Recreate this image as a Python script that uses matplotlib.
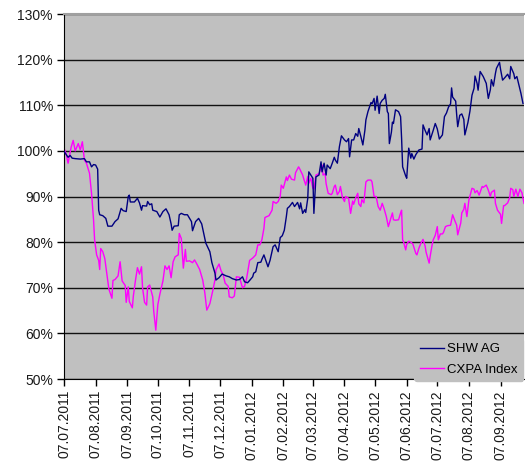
import matplotlib
matplotlib.use("Agg")
import matplotlib.pyplot as plt
import matplotlib.dates as mdates
import matplotlib.ticker as mticker
import pandas as pd

plt.rcParams['font.family'] = ['Liberation Sans', 'DejaVu Sans']

start_date = "2011-07-07"

# SHW AG: days since start, value in %
shw_days = [0, 4, 6, 8, 11, 16, 20, 22, 25, 27, 29, 31, 33, 34, 35, 38, 41, 43, 47, 50,
            53, 56, 58, 61, 63, 64, 65, 69, 72, 74, 76, 77, 81, 82, 84, 86, 87, 91, 94, 97,
            100, 103, 105, 106, 108, 112, 113, 115, 118, 121, 125, 126, 129, 132, 135, 137, 139, 143, 145, 148,
            149, 152, 155, 159, 162, 165, 169, 172, 175, 177, 180, 182, 185, 186, 188, 190, 193, 194, 196, 200,
            202, 205, 207, 210, 212, 214, 216, 218, 219, 221, 224, 226, 229, 231, 232, 234, 236, 237, 239, 240,
            242, 244, 245, 247, 250, 252, 253, 255, 257, 258, 261, 263, 265, 266, 268, 270, 272, 275, 277, 279,
            280, 282, 284, 286, 288, 289, 291, 293, 295, 296, 298, 301, 302, 304, 305, 307, 309, 310, 312, 314,
            315, 317, 318, 319, 321, 322, 323, 325, 328, 330, 331, 332, 335, 336, 338, 340, 341, 343, 345, 348,
            351, 352, 354, 356, 358, 359, 362, 364, 366, 368, 371, 373, 375, 377, 379, 380, 381, 384, 385, 386,
            388, 390, 392, 393, 396, 398, 400, 402, 403, 405, 406, 408, 411, 414, 416, 418, 419, 421, 423, 424,
            427, 428, 430, 432, 435, 437, 438, 441, 442, 444, 446, 448, 450]
shw_values = [99.9, 98.6, 99.0, 98.4, 98.3, 98.2, 98.3, 97.6, 97.6, 96.5, 97.0, 96.9, 96.0, 87.0, 86.0, 85.8, 85.2, 83.5, 83.5, 84.5,
              85.1, 87.4, 86.9, 86.7, 90.0, 90.3, 88.8, 88.8, 89.6, 88.6, 87.0, 88.0, 87.9, 88.9, 88.2, 88.4, 87.0, 86.7, 85.5, 86.7,
              87.3, 86.0, 84.0, 82.6, 83.5, 83.6, 86.0, 86.3, 86.0, 86.0, 84.5, 82.5, 84.5, 85.2, 84.0, 81.9, 79.8, 77.9, 75.5, 73.2,
              71.7, 72.2, 73.0, 72.6, 72.4, 72.0, 71.7, 71.8, 72.4, 71.3, 71.1, 71.6, 72.4, 73.2, 73.5, 75.5, 75.6, 76.2, 77.2, 74.6,
              76.0, 79.0, 79.4, 77.9, 81.0, 81.4, 82.6, 85.6, 87.4, 87.8, 88.7, 87.8, 88.7, 87.3, 88.6, 86.3, 87.1, 86.5, 89.6, 95.4,
              94.7, 94.0, 86.3, 94.3, 94.7, 97.6, 95.4, 97.3, 94.7, 96.9, 96.1, 97.3, 98.6, 98.0, 97.3, 100.9, 103.3, 102.4, 102.0, 102.7,
              98.7, 102.4, 102.4, 103.8, 103.2, 104.9, 103.2, 101.3, 104.5, 106.8, 108.6, 110.6, 110.3, 111.5, 108.9, 112.0, 108.2, 110.4, 111.1, 111.5,
              112.4, 108.6, 108.2, 101.6, 104.1, 106.3, 106.0, 109.0, 108.6, 107.5, 102.7, 96.5, 94.5, 94.0, 100.6, 98.4, 99.4, 98.2, 99.2, 100.2,
              100.4, 105.7, 104.5, 103.5, 104.9, 102.4, 104.5, 106.0, 104.8, 102.6, 103.5, 107.5, 108.3, 109.6, 110.3, 113.8, 111.8, 110.9, 107.9, 105.3,
              107.8, 108.1, 106.9, 103.5, 106.2, 108.7, 112.2, 113.7, 116.4, 114.8, 113.3, 117.4, 116.3, 114.8, 111.5, 113.4, 115.6, 114.2, 117.0, 118.1,
              119.4, 117.9, 115.5, 116.0, 116.8, 115.8, 118.5, 116.9, 115.8, 116.3, 114.5, 112.6, 110.4]

# CXPA Index: days since start, value in %
cxpa_days = [0, 2, 4, 7, 9, 11, 14, 16, 18, 20, 22, 25, 27, 29, 30, 32, 34, 35, 36, 38,
             40, 42, 44, 47, 48, 50, 53, 55, 57, 60, 61, 63, 64, 67, 68, 70, 72, 74, 76, 77,
             79, 81, 82, 84, 87, 88, 90, 92, 94, 97, 99, 101, 103, 105, 107, 109, 112, 113, 115, 117,
             119, 120, 123, 126, 128, 130, 133, 136, 138, 140, 143, 146, 148, 149, 152, 154, 156, 158, 161, 162,
             165, 167, 169, 172, 175, 177, 179, 182, 185, 188, 190, 192, 194, 196, 197, 199, 201, 204, 205, 208,
             210, 212, 213, 215, 218, 219, 221, 223, 226, 227, 230, 231, 234, 235, 237, 239, 240, 242, 244, 245,
             247, 250, 253, 254, 256, 257, 259, 262, 263, 265, 266, 268, 270, 271, 273, 275, 276, 279, 281, 283,
             284, 286, 288, 289, 291, 292, 294, 296, 298, 301, 302, 304, 306, 308, 310, 312, 314, 316, 318, 320,
             322, 323, 325, 328, 330, 331, 332, 333, 335, 336, 338, 340, 342, 345, 346, 348, 350, 352, 354, 355,
             358, 359, 361, 362, 364, 366, 367, 369, 371, 372, 374, 376, 379, 381, 383, 385, 386, 389, 390, 392,
             393, 395, 397, 398, 400, 402, 403, 405, 407, 410, 411, 414, 416, 418, 419, 422, 423, 425, 428, 429,
             431, 432, 435, 437, 438, 440, 441, 443, 445, 447, 449, 450, 451]
cxpa_values = [100.6, 99.4, 97.3, 100.8, 102.3, 100.0, 101.6, 100.2, 102.0, 98.0, 97.3, 95.1, 90.7, 84.8, 80.5, 77.2, 76.0, 74.0, 78.6, 77.9,
               76.4, 73.0, 69.7, 67.7, 71.6, 71.8, 72.6, 75.7, 71.5, 70.5, 66.8, 70.2, 67.0, 65.6, 68.2, 71.5, 74.4, 73.0, 74.6, 70.0,
               66.8, 66.2, 70.2, 70.6, 68.0, 64.8, 60.7, 66.3, 68.6, 71.5, 74.8, 74.0, 74.8, 72.2, 75.7, 76.8, 77.2, 81.9, 80.8, 74.3,
               78.4, 75.8, 75.9, 75.5, 76.1, 75.3, 74.0, 71.7, 69.0, 65.1, 66.5, 69.5, 71.7, 73.9, 75.2, 73.7, 72.9, 71.0, 70.3, 68.0,
               67.8, 68.2, 72.4, 72.3, 70.0, 70.3, 72.0, 76.0, 76.5, 77.2, 79.4, 79.4, 80.5, 83.0, 85.4, 85.6, 85.8, 87.0, 88.9, 88.5,
               88.9, 90.0, 92.5, 91.8, 94.3, 93.5, 94.7, 93.8, 93.6, 95.2, 96.5, 96.1, 94.7, 93.9, 92.5, 94.4, 92.9, 94.0, 91.8, 91.6,
               94.7, 95.0, 96.9, 94.7, 95.0, 92.8, 90.7, 90.4, 90.7, 92.2, 92.5, 90.4, 91.1, 92.2, 89.8, 88.9, 90.0, 89.6, 86.3, 89.0,
               88.3, 89.7, 90.7, 88.4, 87.8, 89.3, 88.6, 93.2, 93.6, 93.6, 93.2, 90.0, 90.0, 87.8, 87.0, 88.5, 87.2, 85.6, 83.4, 84.9,
               86.4, 84.9, 84.8, 84.9, 86.4, 87.0, 80.5, 80.0, 78.3, 79.5, 80.2, 80.0, 79.6, 77.5, 77.2, 78.7, 79.8, 80.6, 79.2, 77.8,
               75.4, 76.9, 79.5, 80.5, 81.5, 83.4, 80.5, 81.8, 81.8, 82.1, 83.4, 83.6, 83.7, 86.0, 84.8, 83.7, 81.6, 84.2, 86.4, 87.2,
               88.5, 85.6, 89.3, 90.1, 91.8, 91.6, 90.8, 91.3, 90.3, 92.2, 92.0, 92.5, 91.4, 90.0, 90.9, 91.4, 88.5, 87.0, 86.1, 84.1,
               88.0, 88.0, 88.6, 89.8, 91.8, 91.5, 90.0, 91.6, 90.0, 91.6, 90.8, 89.6, 88.5]

series_names = ["SHW AG", "CXPA Index"]
y_ticks = [50, 60, 70, 80, 90, 100, 110, 120, 130]

t0 = pd.Timestamp(start_date)
shw_dates = t0 + pd.to_timedelta(shw_days, unit="D")
cxpa_dates = t0 + pd.to_timedelta(cxpa_days, unit="D")

fig = plt.figure(figsize=(5.25, 4.62), dpi=100)
ax = fig.add_axes([64 / 525, 1 - 379 / 462, 460 / 525, 365 / 462])
ax.set_facecolor("#C0C0C0")

ax.plot(shw_dates, shw_values, color="#000080", lw=1.0, label=series_names[0], zorder=3)
ax.plot(cxpa_dates, cxpa_values, color="#FF00FF", lw=1.0, label=series_names[1], zorder=2)

ax.set_ylim(50, 130)
ax.set_yticks(y_ticks)
ax.yaxis.set_major_formatter(mticker.FuncFormatter(lambda v, p: f"{int(round(v))}%"))
ax.set_xlim(t0, t0 + pd.Timedelta(days=451))
ax.xaxis.set_major_locator(mdates.MonthLocator(bymonthday=7))
ax.xaxis.set_major_formatter(mdates.DateFormatter("%d.%m.%Y"))

ax.grid(axis="y", color="#111111", lw=1.0, zorder=1)
ax.set_axisbelow(True)
ax.spines["right"].set_visible(False)
ax.spines["top"].set_color("#A0A0A0")
ax.spines["top"].set_linewidth(1.5)
ax.spines["left"].set_color("black")
ax.spines["bottom"].set_color("black")

ax.tick_params(axis="y", direction="out", length=5, width=1, labelsize=10, pad=3, colors="black")
ax.tick_params(axis="x", direction="out", length=5, width=1, labelsize=10, pad=3, colors="black", labelrotation=90)
for lab in ax.get_yticklabels() + ax.get_xticklabels():
    lab.set_color("#1a1a1a")

leg = ax.legend(loc="lower right", frameon=True, fontsize=9.5, handlelength=1.8,
                handletextpad=0.3, labelspacing=0.6, borderaxespad=0.3,
                bbox_to_anchor=(1.007, -0.016))
leg.get_frame().set_facecolor("#C0C0C0")
leg.get_frame().set_edgecolor("#C0C0C0")
leg.get_frame().set_alpha(1.0)

fig.savefig("out.png", dpi=100, facecolor="white")
